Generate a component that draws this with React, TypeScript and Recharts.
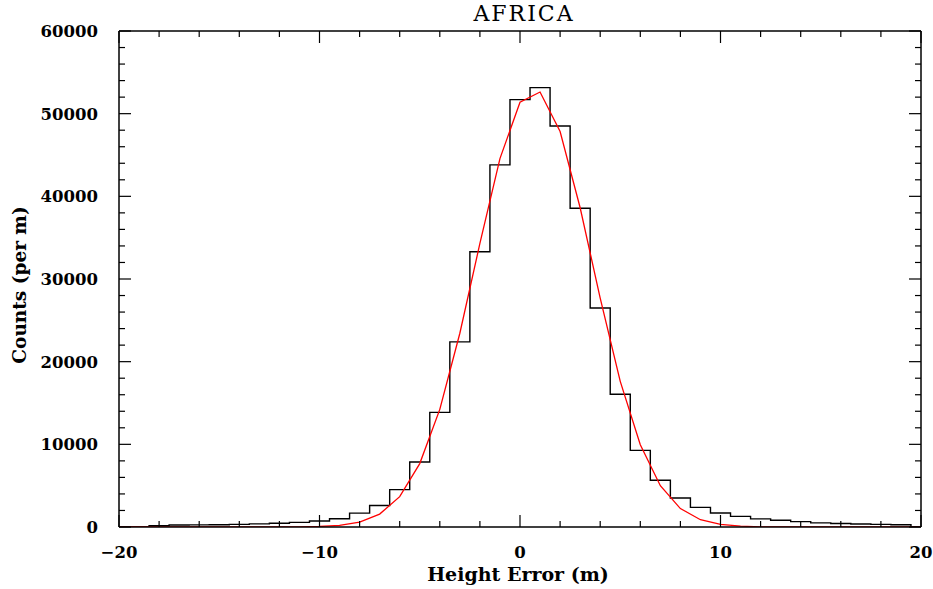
import React from "react";
import { ComposedChart, Line, XAxis, YAxis, Label } from "recharts";

// histogram: 1 m bins centred on whole metres
const binCenters = [
  -19, -18, -17, -16, -15, -14, -13, -12, -11, -10, -9, -8, -7, -6, -5, -4, -3, -2, -1,
  0, 1, 2, 3, 4, 5, 6, 7, 8, 9, 10, 11, 12, 13, 14, 15, 16, 17, 18, 19,
];
const binCounts = [
  0, 150, 250, 260, 280, 320, 380, 450, 560, 720, 1000, 1680, 2600, 4520, 7860, 13870, 22400, 33300, 43800,
  51700, 53150, 48500, 38550, 26500, 16050, 9270, 5650, 3510, 2380, 1690, 1290, 980, 810, 650, 500, 420, 370, 320, 270,
];

// red fitted curve, sampled at whole metres
const fitX = [
  -20, -19, -18, -17, -16, -15, -14, -13, -12, -11, -10, -9, -8, -7, -6, -5, -4, -3, -2, -1,
  0, 1, 2, 3, 4, 5, 6, 7, 8, 9, 10, 11, 12, 13, 14, 15, 16, 17, 18, 19, 20,
];
const fitCounts = [
  0, 0, 0, 0, 0, 0, 1, 3, 9, 25, 60, 200, 590, 1560, 3670, 7670, 14230, 23440, 34300, 44560,
  51380, 52620, 47840, 38620, 27680, 17620, 9950, 4990, 2230, 880, 310, 96, 27, 7, 2, 0, 0, 0, 0, 0, 0,
];

const xTicks = [-20, -18, -16, -14, -12, -10, -8, -6, -4, -2, 0, 2, 4, 6, 8, 10, 12, 14, 16, 18, 20];
const xLabelled = [-20, -10, 0, 10, 20];
const yTicks = [
  0, 2000, 4000, 6000, 8000, 10000, 12000, 14000, 16000, 18000, 20000, 22000, 24000, 26000, 28000, 30000,
  32000, 34000, 36000, 38000, 40000, 42000, 44000, 46000, 48000, 50000, 52000, 54000, 56000, 58000, 60000,
];
const yLabelled = [0, 10000, 20000, 30000, 40000, 50000, 60000];

const histData = [
  { x: -20, h: 0 },
  ...binCenters.map((c, i) => ({ x: c - 0.5, h: binCounts[i] })),
  { x: binCenters[binCenters.length - 1] + 0.5, h: 0 },
  { x: 20, h: 0 },
];
const fitData = fitX.map((x, i) => ({ x, f: fitCounts[i] }));

const FONT = "'DejaVu Serif', serif";
const MAJOR = 12;
const MINOR = 6;

const fmt = (v: number) => (v < 0 ? "\u2212" + Math.abs(v) : String(v));

const BottomTick = ({ x, y, payload }: any) => {
  const major = xLabelled.includes(payload.value);
  return (
    <g>
      <line x1={x} x2={x} y1={y} y2={y - (major ? MAJOR : MINOR)} stroke="#000" strokeWidth={1.2} />
      {major && (
        <text x={x} y={y + 31} textAnchor="middle" fontFamily={FONT} fontWeight="bold" fontSize={16.5} fill="#000">
          {fmt(payload.value)}
        </text>
      )}
    </g>
  );
};

const TopTick = ({ x, y, payload }: any) => {
  const major = xLabelled.includes(payload.value);
  return <line x1={x} x2={x} y1={y} y2={y + (major ? MAJOR : MINOR)} stroke="#000" strokeWidth={1.2} />;
};

const LeftTick = ({ x, y, payload }: any) => {
  const major = yLabelled.includes(payload.value);
  return (
    <g>
      <line x1={x} x2={x + (major ? MAJOR : MINOR)} y1={y} y2={y} stroke="#000" strokeWidth={1.2} />
      {major && (
        <text x={x - 21} y={y + 6} textAnchor="end" fontFamily={FONT} fontWeight="bold" fontSize={16.5} fill="#000">
          {payload.value}
        </text>
      )}
    </g>
  );
};

const RightTick = ({ x, y, payload }: any) => {
  const major = yLabelled.includes(payload.value);
  return <line x1={x} x2={x - (major ? MAJOR : MINOR)} y1={y} y2={y} stroke="#000" strokeWidth={1.2} />;
};

const frame = { stroke: "#000", strokeWidth: 1.5 };

export default function App() {
  return (
    <div style={{ position: "absolute", left: 0, top: 0, background: "#fff" }}>
      <ComposedChart width={933} height={589} margin={{ top: 30, right: 0, bottom: 0, left: 0 }}>
        <XAxis
          xAxisId="b"
          type="number"
          dataKey="x"
          domain={[-20, 20]}
          allowDataOverflow
          ticks={xTicks}
          interval={0}
          tickSize={0}
          tickMargin={0}
          tickLine={false}
          tick={<BottomTick />}
          height={62}
          axisLine={frame}
        >
          <Label
            content={() => (
              <text x={518} y={581} textAnchor="middle" fontFamily={FONT} fontWeight="bold" fontSize={19} fill="#000">
                Height Error (m)
              </text>
            )}
          />
        </XAxis>
        <XAxis
          xAxisId="t"
          orientation="top"
          type="number"
          dataKey="x"
          domain={[-20, 20]}
          allowDataOverflow
          ticks={xTicks}
          interval={0}
          tickSize={0}
          tickMargin={0}
          tickLine={false}
          tick={<TopTick />}
          height={1}
          axisLine={frame}
        >
          <Label
            content={() => (
              <text x={524} y={21} textAnchor="middle" fontFamily={FONT} fontSize={22} letterSpacing={2} fill="#000">
                AFRICA
              </text>
            )}
          />
        </XAxis>
        <YAxis
          yAxisId="l"
          type="number"
          domain={[0, 60000]}
          allowDataOverflow
          ticks={yTicks}
          interval={0}
          tickSize={0}
          tickMargin={0}
          tickLine={false}
          tick={<LeftTick />}
          width={119}
          axisLine={frame}
        >
          <Label
            content={() => (
              <text
                x={26}
                y={285}
                transform="rotate(-90 26 285)"
                textAnchor="middle"
                fontFamily={FONT}
                fontWeight="bold"
                fontSize={18.5}
                fill="#000"
              >
                Counts (per m)
              </text>
            )}
          />
        </YAxis>
        <YAxis
          yAxisId="r"
          orientation="right"
          type="number"
          domain={[0, 60000]}
          allowDataOverflow
          ticks={yTicks}
          interval={0}
          tickSize={0}
          tickMargin={0}
          tickLine={false}
          tick={<RightTick />}
          width={12}
          axisLine={frame}
        />
        <Line
          data={histData}
          dataKey="h"
          xAxisId="b"
          yAxisId="l"
          type="stepAfter"
          stroke="#000"
          strokeWidth={1.4}
          dot={false}
          activeDot={false}
          isAnimationActive={false}
        />
        <Line
          data={fitData}
          dataKey="f"
          xAxisId="b"
          yAxisId="l"
          type="linear"
          stroke="#ff0000"
          strokeWidth={1.3}
          dot={false}
          activeDot={false}
          isAnimationActive={false}
        />
      </ComposedChart>
    </div>
  );
}
